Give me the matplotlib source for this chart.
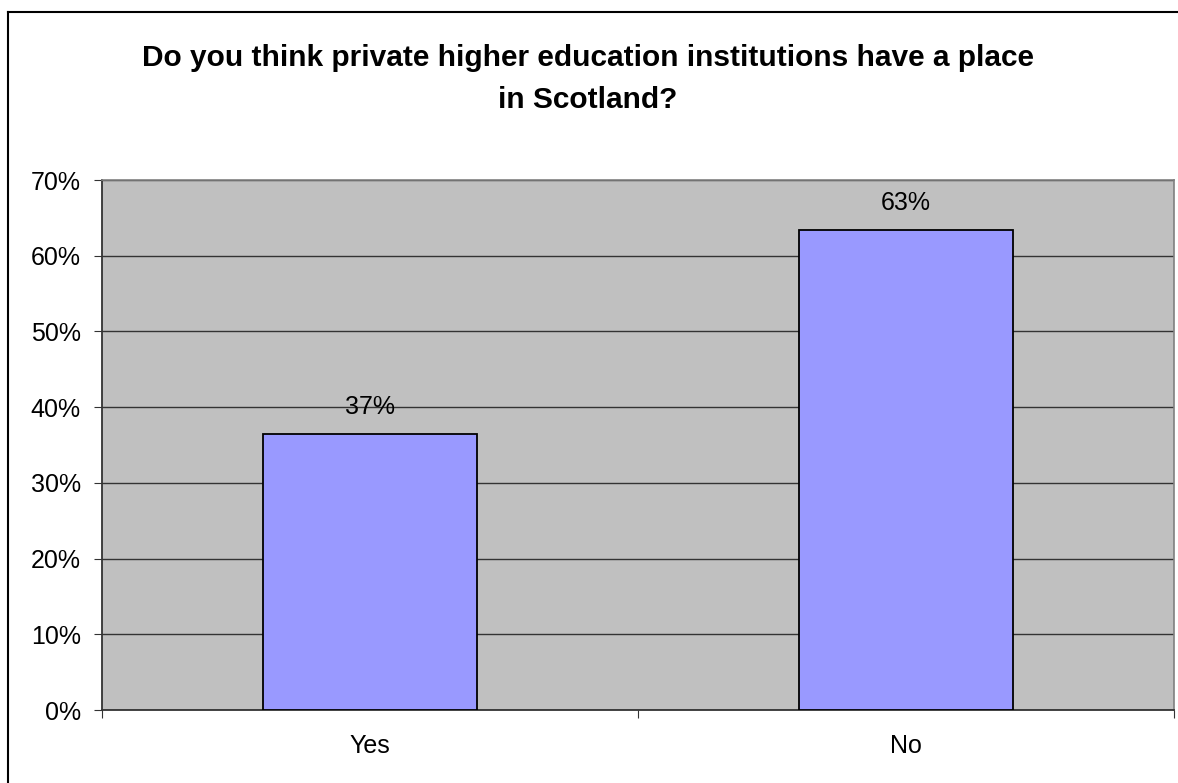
import matplotlib
matplotlib.use("Agg")
import matplotlib.pyplot as plt
from matplotlib.lines import Line2D

categories = ["Yes", "No"]
values = [36.5, 63.4]
labels = ["37%", "63%"]
yticks = [0, 10, 20, 30, 40, 50, 60, 70]

plt.rcParams['font.family'] = ['Liberation Sans', 'DejaVu Sans']

W, H = 1178, 783
fig = plt.figure(figsize=(W / 100, H / 100), dpi=100)
ax = fig.add_axes([102 / W, (H - 710) / H, (1174 - 102) / W, (710 - 180) / H])

ax.set_facecolor("#c0c0c0")
x = range(len(categories))
bars = ax.bar(x, values, width=0.4, color="#9999ff", edgecolor="black", linewidth=1.3, zorder=3)

for b, lab in zip(bars, labels):
    ax.text(b.get_x() + b.get_width() / 2, b.get_height() + 2.6, lab,
            ha="center", va="baseline", fontsize=18)

ax.set_xlim(-0.5, 1.5)
ax.set_ylim(0, 70)
ax.set_yticks(yticks)
ax.set_yticklabels([f"{t}%" for t in yticks], fontsize=18)
ax.yaxis.grid(True, color="#333333", linewidth=1)
ax.set_axisbelow(True)

# category labels centred, tick marks between categories
ax.set_xticks([-0.5, 0.5, 1.5])
ax.set_xticklabels([])
ax.set_xticks([0, 1], minor=True)
ax.set_xticklabels(categories, minor=True, fontsize=18)
ax.tick_params(axis="x", which="minor", length=0, pad=17)
ax.tick_params(axis="x", which="major", length=5.8, color="#333333")
ax.tick_params(axis="y", length=5.8, color="#333333", pad=9.4)

for s in ["left", "bottom"]:
    ax.spines[s].set_color("#333333")
    ax.spines[s].set_linewidth(1.3)
for s in ["top", "right"]:
    ax.spines[s].set_color("#808080")
    ax.spines[s].set_linewidth(1.2)

fig.text(588 / W, 1 - 66 / H, "Do you think private higher education institutions have a place",
         ha="center", va="baseline", fontsize=21.5, fontweight="bold")
fig.text(588 / W, 1 - 108 / H, "in Scotland?",
         ha="center", va="baseline", fontsize=21.5, fontweight="bold")

# chart frame: only left and top edges fall inside the picture
fig.add_artist(Line2D([8 / W, 8 / W], [0, 1 - 12 / H], transform=fig.transFigure, color="black", linewidth=1.5))
fig.add_artist(Line2D([8 / W, 1], [1 - 12 / H, 1 - 12 / H], transform=fig.transFigure, color="black", linewidth=1.5))

fig.savefig("out.png", dpi=100)
